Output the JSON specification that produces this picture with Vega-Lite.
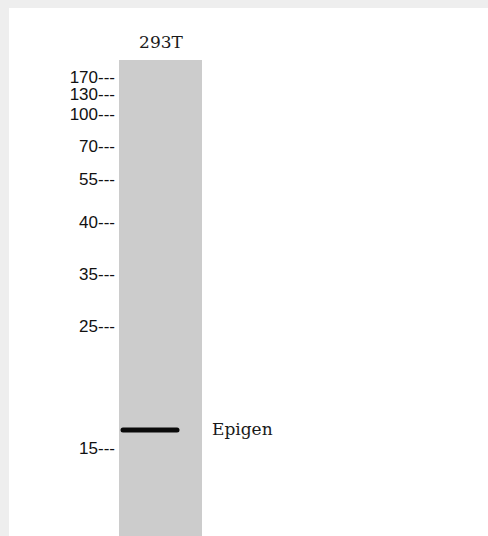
{
  "$schema": "https://vega.github.io/schema/vega-lite/v6.json",
  "width": 488,
  "height": 536,
  "autosize": {"type": "fit", "contains": "padding"},
  "padding": {"left": 9, "top": 8, "right": 0, "bottom": 0},
  "background": "#eeeeee",
  "config": {"view": {"fill": "white", "stroke": null}},
  "datasets": {
    "lanes": [{"lane": "293T", "left": 110, "right": 193, "top": 52, "bottom": 528, "labelX": 152, "labelY": 35}],
    "bands": [{"lane": "293T", "protein": "Epigen", "start": 114, "end": 168, "migration": 422, "labelX": 203}],
    "markers": [
      {"kda": 170, "migration": 70},
      {"kda": 130, "migration": 87},
      {"kda": 100, "migration": 107},
      {"kda": 70, "migration": 139},
      {"kda": 55, "migration": 172},
      {"kda": 40, "migration": 215},
      {"kda": 35, "migration": 267},
      {"kda": 25, "migration": 319},
      {"kda": 15, "migration": 441}
    ]
  },
  "layer": [
    {
      "data": {"name": "lanes"},
      "mark": {"type": "rect", "fill": "#cccccc"},
      "encoding": {
        "x": {"field": "left", "type": "quantitative", "scale": {"domain": [0, 479], "nice": false, "zero": false}, "axis": null},
        "x2": {"field": "right"},
        "y": {"field": "top", "type": "quantitative", "scale": {"domain": [0, 528], "nice": false, "zero": false, "reverse": true}, "axis": null},
        "y2": {"field": "bottom"}
      }
    },
    {
      "data": {"name": "lanes"},
      "mark": {"type": "text", "font": "DejaVu Serif", "fontSize": 17, "color": "#1a1a1a", "align": "center", "baseline": "middle"},
      "encoding": {
        "x": {"field": "labelX", "type": "quantitative"},
        "y": {"field": "labelY", "type": "quantitative"},
        "text": {"field": "lane"}
      }
    },
    {
      "data": {"name": "bands"},
      "mark": {"type": "rule", "strokeWidth": 5, "strokeCap": "round", "color": "#0a0a0a"},
      "encoding": {
        "x": {"field": "start", "type": "quantitative"},
        "x2": {"field": "end"},
        "y": {"field": "migration", "type": "quantitative"}
      }
    },
    {
      "data": {"name": "bands"},
      "mark": {"type": "text", "font": "DejaVu Serif", "fontSize": 17, "color": "#1a1a1a", "align": "left", "baseline": "middle"},
      "encoding": {
        "x": {"field": "labelX", "type": "quantitative"},
        "y": {"field": "migration", "type": "quantitative"},
        "text": {"field": "protein"}
      }
    },
    {
      "data": {"name": "markers"},
      "transform": [{"calculate": "datum.kda + '---'", "as": "label"}],
      "mark": {"type": "text", "font": "Liberation Sans", "fontSize": 17, "color": "#111111", "align": "right", "baseline": "middle", "dx": 106},
      "encoding": {
        "x": {"datum": 0, "type": "quantitative"},
        "y": {"field": "migration", "type": "quantitative"},
        "text": {"field": "label"}
      }
    }
  ]
}
